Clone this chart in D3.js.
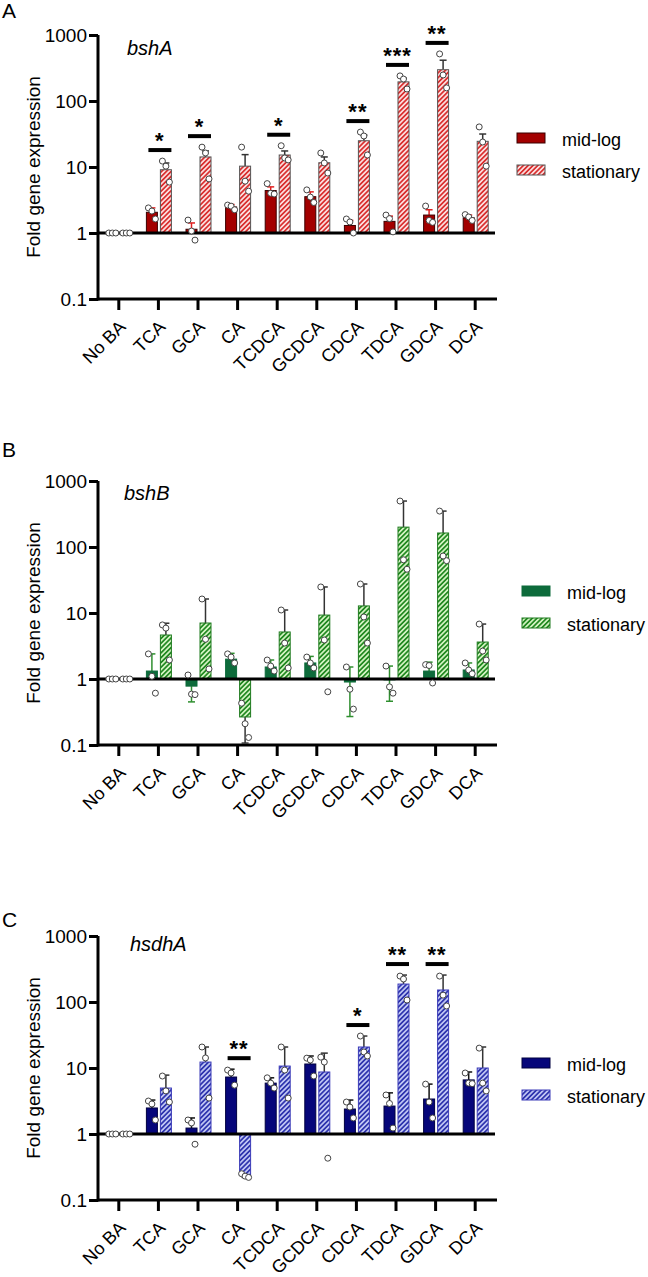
<!DOCTYPE html>
<html><head><meta charset="utf-8">
<script src="https://cdn.jsdelivr.net/npm/d3@7"></script>
<style>
body{margin:0;background:#fff}
svg{display:block}
text{font-family:"Liberation Sans",Arial,Helvetica,sans-serif;fill:#000}
</style>
</head><body>
<svg id="chart" width="648" height="1277"></svg>
<script>
// ---------- shared ----------
const categories = ["No BA","TCA","GCA","CA","TCDCA","GCDCA","CDCA","TDCA","GDCA","DCA"];
const yTickValues = [0.1, 1, 10, 100, 1000];
const yTickLabels = ["0.1", "1", "10", "100", "1000"];
const seriesNames = ["mid-log", "stationary"];
const yTitle = "Fold gene expression";

// ---------- panel A : bshA ----------
const bshA_mid_mean = [1, 2.06, 1.14, 2.48, 4.4, 3.55, 1.3, 1.5, 1.87, 1.7];
const bshA_mid_errHi = [1.05, 2.4, 1.42, 2.7, 5.0, 4.2, 1.55, 1.8, 2.25, 1.87];
const bshA_mid_errLo = [null, null, null, null, null, null, null, null, null, null];
const bshA_mid_pts = [[1,1,1],[2.4,2.15,1.63],[1.57,1.07,0.78],[2.65,2.55,2.25],[5.6,4.0,3.9],[4.5,3.5,2.9],[1.63,1.47,1.0],[1.87,1.65,1.04],[2.56,1.55,1.45],[1.9,1.75,1.55]];
const bshA_sta_mean = [1, 9.1, 14.2, 10.3, 15.2, 11.6, 25, 195, 298, 24.5];
const bshA_sta_errHi = [1, 11.5, 17.5, 15.4, 17.5, 14.2, 30.5, 222, 415, 31.6];
const bshA_sta_errLo = [null, null, null, null, null, null, null, null, null, null];
const bshA_sta_pts = [[1,1,1],[12.3,10.3,5.9],[20,16.3,6.6],[20,6.1,4.3],[21,13.7,12.8],[16.3,11.5,8.1],[33.8,29.5,15.2],[240,215,152],[517,248,158],[40.5,23.9,10.3]];
const bshA_sig = ["", "*", "*", "", "*", "", "**", "***", "**", ""];

// ---------- panel B : bshB ----------
const bshB_mid_mean = [1, 1.32, 0.78, 2.0, 1.52, 1.75, 0.9, 0.97, 1.32, 1.37];
const bshB_mid_errHi = [1.03, 2.4, null, 2.45, 1.94, 2.2, 1.52, 1.57, 1.8, 1.75];
const bshB_mid_errLo = [null, null, 0.45, null, null, null, 0.27, 0.46, null, null];
const bshB_mid_pts = [[1,1,1],[2.4,1.1,0.61],[1.15,0.59,0.58],[2.4,2.15,1.75],[1.94,1.57,1.32],[2.15,1.75,1.47],[1.52,0.7,0.35],[1.57,0.76,0.61],[1.65,1.6,0.87],[1.75,1.37,1.2]];
const bshB_sta_mean = [1, 4.64, 7.05, 0.266, 5.16, 9.3, 12.8, 200, 163, 3.63];
const bshB_sta_errHi = [1, 7.0, 16.3, null, 11.1, 24.8, 27.5, 497, 350, 6.8];
const bshB_sta_errLo = [null, null, null, 0.107, null, null, null, null, null, null];
const bshB_sta_pts = [[1,1,1],[6.6,5.9,1.94],[16.3,4.0,1.42],[0.43,0.21,0.13],[11.1,3.5,1.47],[24.8,3.9,0.64],[27.5,8.7,3.5],[497,64,46],[350,73,62],[6.8,2.65,1.94]];
const bshB_sig = ["", "", "", "", "", "", "", "", "", ""];

// ---------- panel C : hsdhA ----------
const hsdhA_mid_mean = [1, 2.48, 1.23, 7.3, 5.9, 11.5, 2.39, 2.65, 3.39, 6.6];
const hsdhA_mid_errHi = [1.03, 3.27, 1.75, 9.6, 7.1, 15.2, 3.27, 4.2, 5.7, 8.7];
const hsdhA_mid_errLo = [null, null, null, null, null, null, null, null, null, null];
const hsdhA_mid_pts = [[1,1,1],[3.16,2.85,1.63],[1.63,1.47,0.7],[9.3,8.4,5.5],[7.1,5.9,4.97],[14.1,13.2,7.56],[3.05,2.56,1.75],[3.9,2.9,1.23],[5.7,3.05,1.75],[8.4,5.9,5.8]];
const hsdhA_sta_mean = [1, 4.97, 12.3, 0.24, 10.7, 8.7, 20.8, 187, 152, 10];
const hsdhA_sta_errHi = [1, 7.8, 20.8, null, 20.8, 16.8, 30.5, 256, 256, 20.8];
const hsdhA_sta_errLo = [null, null, null, 0.22, null, null, null, null, null, null];
const hsdhA_sta_pts = [[1,1,1],[7.56,4.5,3.05],[20.8,14.2,3.5],[0.25,0.23,0.22],[20.8,9.3,3.5],[14.6,12.3,0.43],[30.5,17.5,15.2],[247,223,107],[247,127,87],[20,5.9,4.5]];
const hsdhA_sig = ["", "", "", "**", "", "", "*", "**", "**", ""];

// ---------- layout / style ----------
const panels = [
  { letter: "A", gene: "bshA", top: 35, letterY: 18, geneX: 127, geneDy: 20,
    legendX: 517, legendY: 133,
    midFill: "#a30000", midStroke: "#3a0000", midErr: "#e02020",
    staBg: "#fde2e2", staStripe: "#d82a2a", staStroke: "#555", staErr: "#333",
    mid: {mean: bshA_mid_mean, hi: bshA_mid_errHi, lo: bshA_mid_errLo, pts: bshA_mid_pts},
    sta: {mean: bshA_sta_mean, hi: bshA_sta_errHi, lo: bshA_sta_errLo, pts: bshA_sta_pts},
    sig: bshA_sig },
  { letter: "B", gene: "bshB", top: 481, letterY: 457, geneX: 124, geneDy: 19,
    legendX: 522, legendY: 586,
    midFill: "#0d6b3b", midStroke: "#0d6b3b", midErr: "#2f8f2f",
    staBg: "#d6f5c4", staStripe: "#1c861c", staStroke: "#1f7a1f", staErr: "#333",
    mid: {mean: bshB_mid_mean, hi: bshB_mid_errHi, lo: bshB_mid_errLo, pts: bshB_mid_pts},
    sta: {mean: bshB_sta_mean, hi: bshB_sta_errHi, lo: bshB_sta_errLo, pts: bshB_sta_pts},
    sig: bshB_sig },
  { letter: "C", gene: "hsdhA", top: 936, letterY: 927, geneX: 130, geneDy: 15,
    legendX: 522, legendY: 1058,
    midFill: "#06067a", midStroke: "#000040", midErr: "#111",
    staBg: "#c3c9f5", staStripe: "#2a30ac", staStroke: "#3a3ab8", staErr: "#333",
    mid: {mean: hsdhA_mid_mean, hi: hsdhA_mid_errHi, lo: hsdhA_mid_errLo, pts: hsdhA_mid_pts},
    sta: {mean: hsdhA_sta_mean, hi: hsdhA_sta_errHi, lo: hsdhA_sta_errLo, pts: hsdhA_sta_pts},
    sig: hsdhA_sig }
];

const svg = d3.select("#chart");
const defs = svg.append("defs");
const axisX0 = 98, axisX1 = 495, decade = 66;
const x = d3.scaleBand().domain(categories).range([99, 495]).padding(0);
const barW = 11;
const jitter = [-3.5, 0, 3.5];

panels.forEach((p, pi) => {
  const y = d3.scaleLog().domain([0.1, 1000]).range([p.top + 4 * decade, p.top]);
  const g = svg.append("g");
  const pid = "hatch" + pi;
  const pat = defs.append("pattern").attr("id", pid).attr("patternUnits", "userSpaceOnUse")
    .attr("width", 3.4).attr("height", 3.4).attr("patternTransform", "rotate(45)");
  pat.append("rect").attr("width", 3.4).attr("height", 3.4).attr("fill", p.staBg);
  pat.append("line").attr("x1", 0.9).attr("x2", 0.9).attr("y1", 0).attr("y2", 3.4)
    .attr("stroke", p.staStripe).attr("stroke-width", 1.7);

  // panel letter
  g.append("text").attr("x", 2).attr("y", p.letterY).attr("font-size", 21).text(p.letter);

  // y axis
  const yAxis = d3.axisLeft(y).tickValues(yTickValues).tickFormat((d, i) => yTickLabels[i]).tickSize(9).tickPadding(2);
  const ya = g.append("g").attr("transform", `translate(${axisX0},0)`).call(yAxis);
  ya.select(".domain").attr("stroke", "#000").attr("stroke-width", 3).attr("d", `M0,${y(0.1)+1.5}V${y(1000)}`);
  ya.selectAll(".tick line").attr("stroke", "#000").attr("stroke-width", 3);
  ya.selectAll(".tick text").attr("font-size", 19).attr("font-family", '"Liberation Sans",Arial,sans-serif').attr("fill", "#000").attr("dy", "0.35em");

  // y title
  const ym = (y(0.1) + y(1000)) / 2;
  g.append("text").attr("transform", `translate(35,${ym}) rotate(-90)`).attr("text-anchor", "middle")
    .attr("dominant-baseline", "middle").attr("font-size", 19).text(yTitle);

  // bottom axis at 0.1
  const xAxis = d3.axisBottom(x).tickSize(11).tickFormat("");
  const xa = g.append("g").attr("transform", `translate(0,${y(0.1)})`).call(xAxis);
  xa.select(".domain").attr("stroke", "#000").attr("stroke-width", 3).attr("d", `M${axisX0},0H${axisX1 + 2}`);
  xa.selectAll(".tick line").attr("stroke", "#000").attr("stroke-width", 3);
  // rotated category labels
  g.selectAll(".xl").data(categories).join("text")
    .attr("transform", d => `translate(${x(d) + x.bandwidth() / 2 + 8},${y(0.1) + 29}) rotate(-45)`)
    .attr("text-anchor", "end").attr("font-size", 18).text(d => d);

  // gene label
  g.append("text").attr("x", p.geneX).attr("y", p.top + p.geneDy).attr("font-size", 20)
    .attr("font-style", "italic").text(p.gene);

  const series = [
    { s: p.mid, off: -12, fill: p.midFill, stroke: p.midStroke, err: p.midErr },
    { s: p.sta, off: 2, fill: `url(#${pid})`, stroke: p.staStroke, err: p.staErr }
  ];

  // error bars (behind bars)
  series.forEach(se => {
    categories.forEach((c, i) => {
      const cx = x(c) + x.bandwidth() / 2 + se.off + barW / 2;
      const m = se.s.mean[i];
      const lo = se.s.lo[i], hi = se.s.hi[i];
      const a = lo != null ? lo : m, b = hi != null ? hi : m;
      if (a === b) return;
      g.append("line").attr("x1", cx).attr("x2", cx).attr("y1", y(a)).attr("y2", y(b))
        .attr("stroke", se.err).attr("stroke-width", 1.5);
      [lo, hi].forEach(v => {
        if (v == null) return;
        g.append("line").attr("x1", cx - 3.5).attr("x2", cx + 3.5).attr("y1", y(v)).attr("y2", y(v))
          .attr("stroke", se.err).attr("stroke-width", 1.5);
      });
    });
  });

  // bars
  series.forEach(se => {
    g.selectAll(null).data(categories).join("rect")
      .attr("x", c => x(c) + x.bandwidth() / 2 + se.off)
      .attr("width", barW)
      .attr("y", (c, i) => Math.min(y(se.s.mean[i]), y(1)))
      .attr("height", (c, i) => Math.abs(y(se.s.mean[i]) - y(1)))
      .attr("fill", se.fill).attr("stroke", se.stroke).attr("stroke-width", 1);
  });

  // baseline at 1
  g.append("line").attr("x1", axisX0).attr("x2", axisX1).attr("y1", y(1)).attr("y2", y(1))
    .attr("stroke", "#000").attr("stroke-width", 3);

  // points
  series.forEach(se => {
    categories.forEach((c, i) => {
      const cx = x(c) + x.bandwidth() / 2 + se.off + barW / 2;
      se.s.pts[i].forEach((v, j) => {
        g.append("circle").attr("cx", cx + jitter[j]).attr("cy", y(v)).attr("r", 3)
          .attr("fill", "#fff").attr("stroke", "#444").attr("stroke-width", 1);
      });
    });
  });

  // significance
  categories.forEach((c, i) => {
    const lab = p.sig[i];
    if (!lab) return;
    const cx = x(c) + x.bandwidth() / 2;
    const topV = d3.max([p.mid.mean[i], p.sta.mean[i], p.mid.hi[i] || 0, p.sta.hi[i] || 0, ...p.mid.pts[i], ...p.sta.pts[i]]);
    const ly = y(topV) - 11;
    g.append("line").attr("x1", cx - 10).attr("x2", cx + 13).attr("y1", ly).attr("y2", ly)
      .attr("stroke", "#000").attr("stroke-width", 4);
    g.append("text").attr("x", cx + 1.5).attr("y", ly - 2).attr("text-anchor", "middle")
      .attr("font-size", 22).attr("font-weight", "bold").attr("letter-spacing", "1px").text(lab);
  });

  // legend
  const lg = g.append("g");
  [p.midFill, `url(#${pid})`].forEach((f, k) => {
    lg.append("rect").attr("x", p.legendX).attr("y", p.legendY + k * 32).attr("width", 28).attr("height", 10)
      .attr("fill", f).attr("stroke", k === 0 ? p.midStroke : p.staStroke).attr("stroke-width", 1);
    lg.append("text").attr("x", p.legendX + 45).attr("y", p.legendY + k * 32 + 13)
      .attr("font-size", 18).text(seriesNames[k]);
  });
});
</script>
</body></html>
